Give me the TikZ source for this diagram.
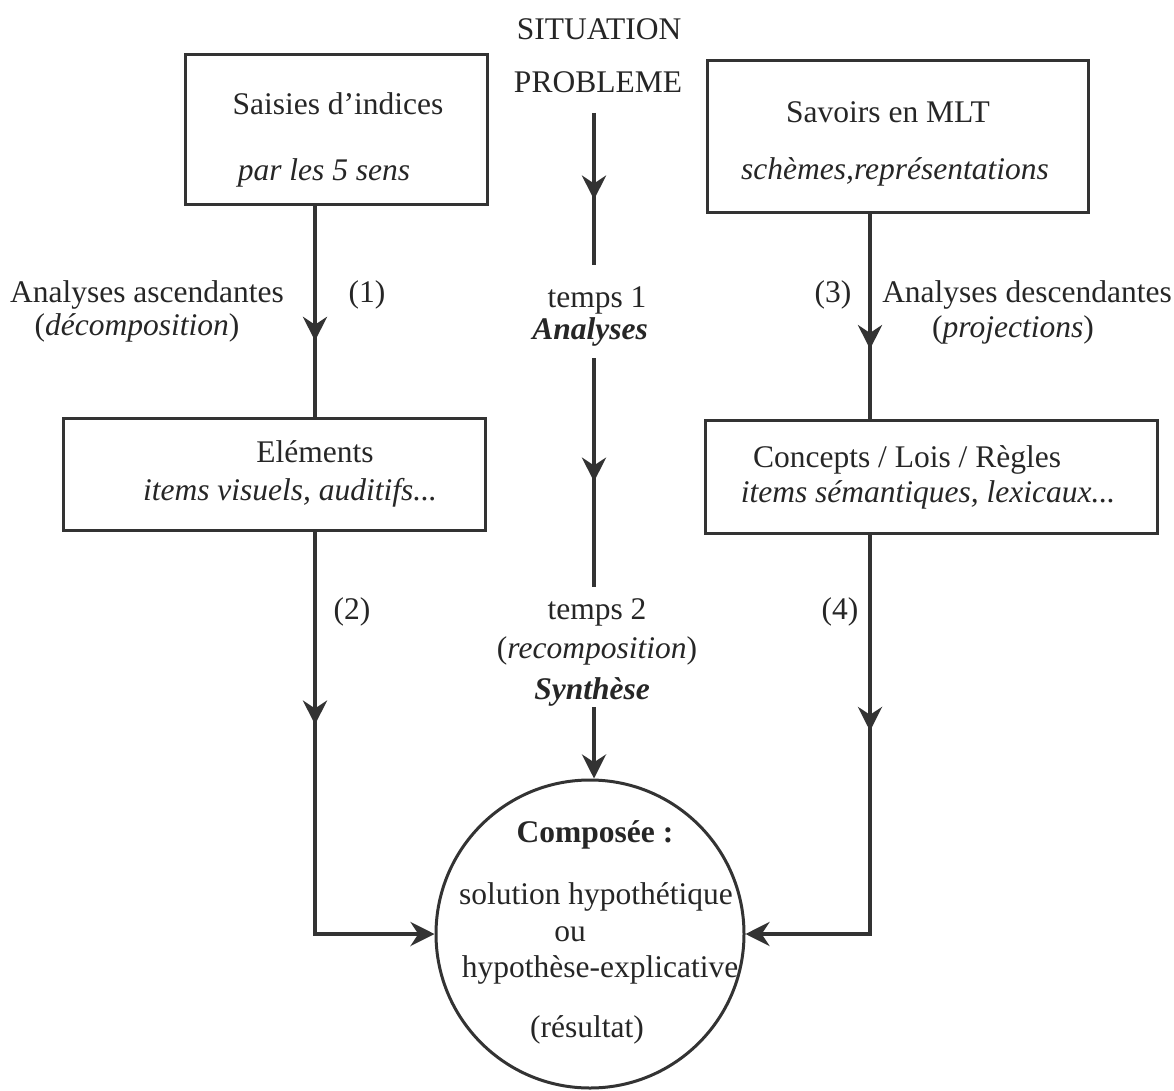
\documentclass[tikz,border=0pt]{standalone}
\usepackage{fontspec}
\setmainfont{Liberation Serif}
\usetikzlibrary{arrows.meta,decorations.markings}
\begin{document}
\begin{tikzpicture}[x=1pt,y=-1pt,
  txt/.style={inner sep=0pt, font=\fontsize{31.5}{36}\selectfont, text=black!85},
  boxnode/.style={draw=black!80, line width=3pt, inner sep=0pt},
  conn/.style={color=black!80, line width=4pt},
  tipend/.style={-{Stealth[length=24pt,width=24pt]}},
  midarrow/.style={postaction={decorate}, decoration={markings, mark=at position #1 with {\arrow{Stealth[length=24pt,width=24pt]}}}},
]
\useasboundingbox[fill=white] (0,0) rectangle (1174,1091);

% title
\node[txt] (sit) at (599,29) {SITUATION};
\node[txt] (prob) at (598,82) {PROBLEME};

% boxes
\node[boxnode, minimum width=302pt, minimum height=150pt] (A) at (336,130) {};
\node[txt] (A1) at (338,104) {Saisies d'indices};
\node[txt] (A2) at (324,173) {\itshape par les 5 sens};

\node[boxnode, minimum width=381pt, minimum height=152pt] (B) at (897.5,137) {};
\node[txt] (B1) at (888,112) {Savoirs en MLT};
\node[txt] (B2) at (895,172) {\itshape schèmes,représentations};

\node[boxnode, minimum width=422pt, minimum height=112pt] (C) at (274,474) {};
\node[txt] (C1) at (315,452) {Eléments};
\node[txt] (C2) at (290,493) {\itshape items visuels, auditifs...};

\node[boxnode, minimum width=452pt, minimum height=113pt] (D) at (931,476.5) {};
\node[txt] (D1) at (907,460) {Concepts / Lois / Règles};
\node[txt] (D2) at (928,495) {\itshape items sémantiques, lexicaux...};

% circle
\node[draw=black!80, line width=3pt, circle, minimum size=308pt, inner sep=0pt] (E) at (590,934) {};
\node[txt] (E1) at (595,835) {\bfseries Composée :};
\node[txt] (E2) at (596,897) {solution hypothétique};
\node[txt] (E3) at (570,934) {ou};
\node[txt] (E4) at (600,970) {hypothèse-explicative};
\node[txt] (E5) at (587,1030) {(résultat)};

% labels
\node[txt] (la1) at (147,295) {Analyses ascendantes};
\node[txt] (la2) at (137,328) {(\textit{décomposition})};
\node[txt] (n1) at (367,295) {(1)};
\node[txt] (n3) at (833,295) {(3)};
\node[txt] (ra1) at (1027,295) {Analyses descendantes};
\node[txt] (ra2) at (1013,330) {(\textit{projections})};
\node[txt] (n2) at (352,612) {(2)};
\node[txt] (n4) at (840,612) {(4)};

\node[txt] (t1) at (597,300) {temps 1};
\node[txt] (t1b) at (590,332) {\bfseries\itshape Analyses};
\node[txt] (t2) at (597,612) {temps 2};
\node[txt] (t2b) at (597,651) {(\textit{recomposition})};
\node[txt] (t2c) at (592,692) {\bfseries\itshape Synthèse};

% coordinates
\coordinate (xL) at (315,0);
\coordinate (xR) at (870,0);
\coordinate (c1s) at (594,113);
\coordinate (c1e) at (594,265);
\coordinate (c2s) at (594,358);
\coordinate (c2e) at (594,587);
\coordinate (c3s) at (594,707);

% connectors
\draw[conn, midarrow=0.64] (A.south -| xL) -- (C.north -| xL);
\draw[conn, midarrow=0.66] (B.south -| xR) -- (D.north -| xR);
\draw[conn, midarrow=0.57] (c1s) -- (c1e);
\draw[conn, midarrow=0.54] (c2s) -- (c2e);
\draw[conn, tipend] (c3s) -- (E.north -| c3s);
\draw[conn, tipend, midarrow=0.37] (C.south -| xL) |- (E.west);
\draw[conn, tipend, midarrow=0.375] (D.south -| xR) |- (E.east);
\end{tikzpicture}
\end{document}
